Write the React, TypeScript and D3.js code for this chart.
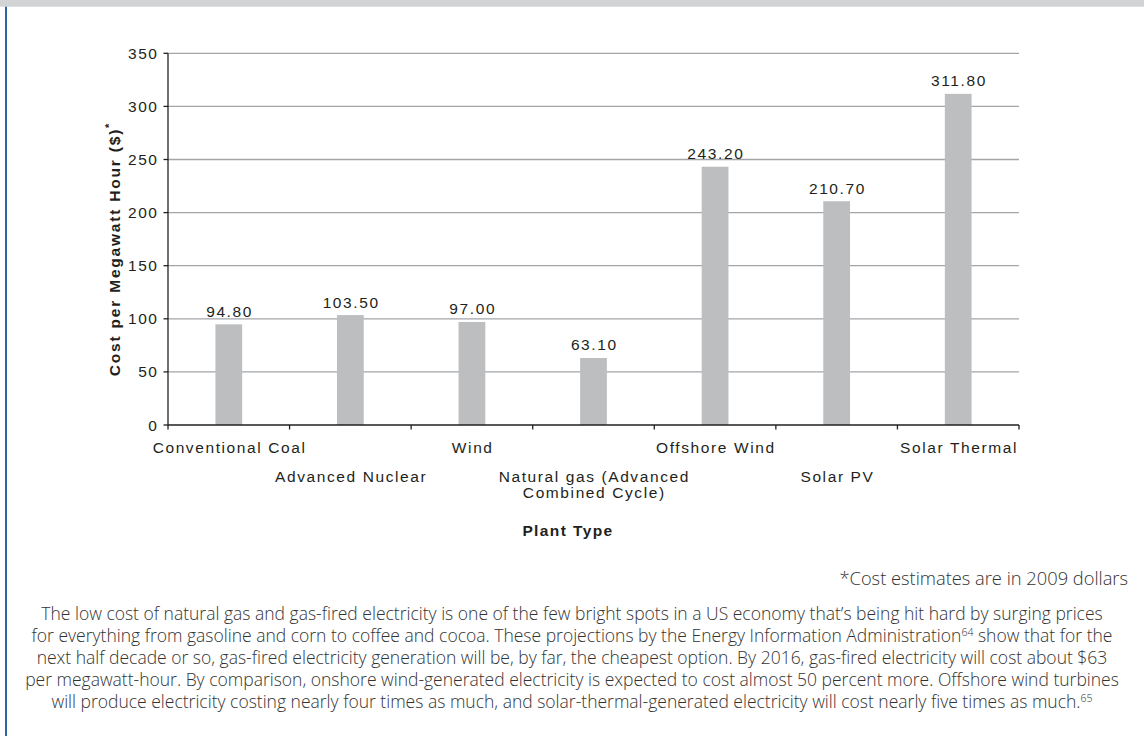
import React from 'react';
import * as d3 from 'd3';

const categories = [
  'Conventional Coal',
  'Advanced Nuclear',
  'Wind',
  'Natural gas (Advanced Combined Cycle)',
  'Offshore Wind',
  'Solar PV',
  'Solar Thermal',
];
const labelLines = [
  ['Conventional Coal'],
  ['Advanced Nuclear'],
  ['Wind'],
  ['Natural gas (Advanced', 'Combined Cycle)'],
  ['Offshore Wind'],
  ['Solar PV'],
  ['Solar Thermal'],
];
const values = [94.8, 103.5, 97.0, 63.1, 243.2, 210.7, 311.8];
const yTicks = [0, 50, 100, 150, 200, 250, 300, 350];
const yTitle = 'Cost per Megawatt Hour ($)';
const xTitle = 'Plant Type';
const footnote = '*Cost estimates are in 2009 dollars';
const paragraph: { text: string; sup?: string; after?: string }[] = [
  { text: 'The low cost of natural gas and gas-fired electricity is one of the few bright spots in a US economy that\u2019s being hit hard by surging prices' },
  { text: 'for everything from gasoline and corn to coffee and cocoa. These projections by the Energy Information Administration', sup: '64', after: ' show that for the' },
  { text: 'next half decade or so, gas-fired electricity generation will be, by far, the cheapest option. By 2016, gas-fired electricity will cost about $63' },
  { text: 'per megawatt-hour. By comparison, onshore wind-generated electricity is expected to cost almost 50 percent more. Offshore wind turbines' },
  { text: 'will produce electricity costing nearly four times as much, and solar-thermal-generated electricity will cost nearly five times as much.', sup: '65' },
];

const W = 1144;
const H = 736;
const left = 168;
const right = 1019;
const top = 53.3;
const bottom = 425;
const FS = 15.5;
const LS = 1.6;
const chartFont = '"Liberation Sans", Arial, Helvetica, sans-serif';
const textFont = '"Open Sans", "Noto Sans", sans-serif';

export default function App() {
  const x = d3.scaleBand<string>().domain(categories).range([left, right]).padding(0);
  const y = d3.scaleLinear().domain([0, 350]).range([bottom, top]);
  const step = x.step();
  const bw = step * 0.22;
  const fmt = d3.format('.2f');
  const boundaries = d3.range(categories.length + 1).map((i) => left + i * step);

  return (
    <svg width={W} height={H} style={{ position: 'absolute', left: 0, top: 0, background: '#fff' }}>
      <rect x={0} y={0} width={W} height={H} fill="#fff" />
      <rect x={0} y={0} width={W} height={6.7} fill="#d1d3d4" />
      <rect x={5} y={6.7} width={2} height={H - 6.7} fill="#2a66a6" />

      {/* gridlines */}
      {yTicks.filter((t) => t > 0).map((t) => (
        <line key={'g' + t} x1={left} x2={right} y1={y(t)} y2={y(t)} stroke="#a3a5a8" strokeWidth={1.3} />
      ))}

      {/* bars */}
      {categories.map((c, i) => (
        <rect key={c} x={(x(c) as number) + (step - bw) / 2} y={y(values[i])} width={bw} height={y(0) - y(values[i])} fill="#bcbec0" />
      ))}

      {/* value labels */}
      {categories.map((c, i) => (
        <text key={'v' + c} x={(x(c) as number) + step / 2 + LS / 2} y={y(values[i]) - 7.5} textAnchor="middle"
          fontFamily={chartFont} fontSize={FS} letterSpacing={LS} fill="#231f20">{fmt(values[i])}</text>
      ))}

      {/* axes */}
      <line x1={left} x2={left} y1={top} y2={bottom} stroke="#231f20" strokeWidth={1.3} />
      <line x1={left} x2={right} y1={bottom} y2={bottom} stroke="#231f20" strokeWidth={1.3} />
      {yTicks.map((t) => (
        <g key={'yt' + t}>
          <line x1={left - 4.5} x2={left} y1={y(t)} y2={y(t)} stroke="#231f20" strokeWidth={1.3} />
          <text x={157 + LS} y={y(t) + 5.5} textAnchor="end" fontFamily={chartFont} fontSize={FS} letterSpacing={LS} fill="#231f20">{t}</text>
        </g>
      ))}
      {boundaries.map((bx, i) => (
        <line key={'xt' + i} x1={bx} x2={bx} y1={bottom} y2={bottom + 4.5} stroke="#231f20" strokeWidth={1.3} />
      ))}

      {/* category labels */}
      {categories.map((c, i) => (
        <text key={'c' + c} x={(x(c) as number) + step / 2 + LS / 2} y={i % 2 === 0 ? 453 : 482} textAnchor="middle"
          fontFamily={chartFont} fontSize={FS} letterSpacing={LS} fill="#231f20">
          {labelLines[i].map((ln, j) => (
            <tspan key={j} x={(x(c) as number) + step / 2 + LS / 2} dy={j === 0 ? 0 : 16}>{ln}</tspan>
          ))}
        </text>
      ))}

      {/* axis titles */}
      <text x={568} y={536} textAnchor="middle" fontFamily={chartFont} fontSize={FS} fontWeight="bold" letterSpacing={1.4} fill="#231f20">{xTitle}</text>
      <text transform={`translate(120, ${249}) rotate(-90)`} textAnchor="middle" fontFamily={chartFont} fontSize={FS} fontWeight="bold" letterSpacing={1.8} fill="#231f20">
        {yTitle}
        <tspan fontSize={11} dy={-7}>*</tspan>
      </text>

      {/* footnote */}
      <text x={1128} y={585} textAnchor="end" fontFamily={textFont} fontSize={18.3} fontWeight={300} fill="#333">{footnote}</text>

      {/* paragraph */}
      {paragraph.map((p, i) => (
        <text key={'p' + i} x={572} y={620 + i * 22} textAnchor="middle" fontFamily={textFont} fontSize={17.5} fontWeight={300} fill="#333">
          {p.text}
          {p.sup ? <tspan fontSize={10.5} dy={-6.5}>{p.sup}</tspan> : null}
          {p.after ? <tspan dy={6.5}>{p.after}</tspan> : null}
        </text>
      ))}
    </svg>
  );
}
